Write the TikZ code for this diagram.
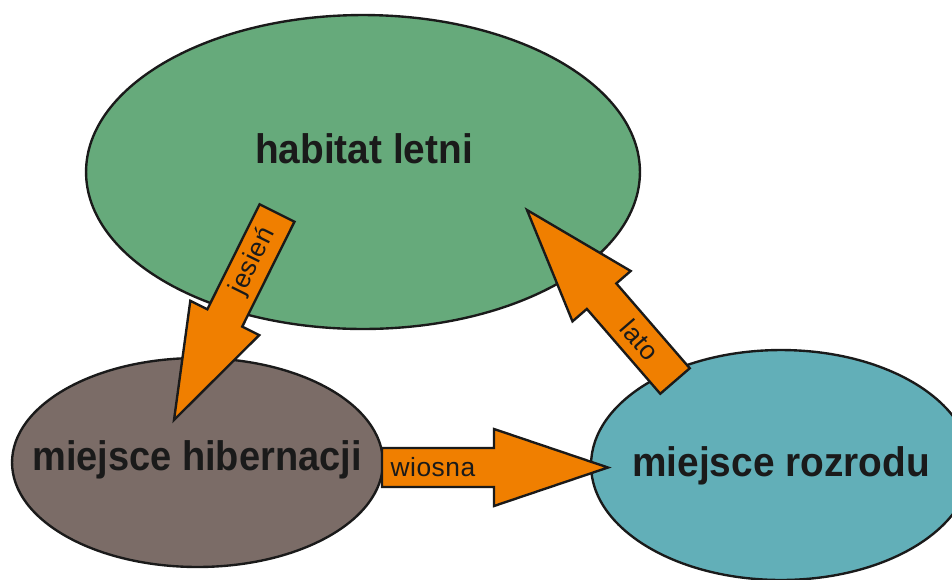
\documentclass[tikz,border=0pt]{standalone}
\usepackage{fontspec}
\setmainfont{Liberation Sans}
\newfontfamily\lblfont[LetterSpace=2]{Liberation Sans}
\usetikzlibrary{shapes.geometric,calc}
\definecolor{habgreen}{HTML}{66AA7B}
\definecolor{hibbrown}{HTML}{7B6C67}
\definecolor{breedteal}{HTML}{62AFB8}
\definecolor{arrorange}{HTML}{F07F00}
\definecolor{textdark}{HTML}{1A1A1A}
\tikzset{
  place/.style={ellipse, draw=textdark, line width=1.35pt, inner sep=0pt},
  blockarr/.style={fill=arrorange, draw=textdark, line width=1.35pt, line join=miter},
  bigtext/.style={font=\fontsize{23.5}{28}\selectfont\bfseries, text=textdark, inner sep=0pt},
  smalltext/.style={font=\lblfont\fontsize{15}{18}\selectfont, text=textdark, inner sep=0pt}
}
\newcommand{\blockarrow}[2]{%
  \coordinate (hb) at ($(#2)!2.28cm!(#1)$);
  \draw[blockarr] ($(#1)!0.39cm!90:(#2)$) -- ($(hb)!0.39cm!90:(#2)$) -- ($(hb)!0.77cm!90:(#2)$) -- (#2)
    -- ($(hb)!0.77cm!-90:(#2)$) -- ($(hb)!0.39cm!-90:(#2)$) -- ($(#1)!0.39cm!-90:(#2)$) -- cycle;}
\begin{document}
\begin{tikzpicture}[x=0.02cm,y=-0.02cm]
\useasboundingbox (0,0) rectangle (952,579);
\clip (0,0) rectangle (952,579);
\node[place, fill=habgreen, minimum width=11.08cm, minimum height=6.28cm] (summer) at (363,172) {};
\node[place, fill=hibbrown, minimum width=7.42cm, minimum height=4.18cm] (hib) at (197.5,462.5) {};
\node[place, fill=breedteal, minimum width=7.6cm, minimum height=4.6cm] (breed) at (781,465) {};
\coordinate (jT) at (277,213); \coordinate (jP) at (174,420);
\coordinate (lT) at (675,381); \coordinate (lP) at (527,210);
\coordinate (wT) at (382,467.5); \coordinate (wP) at (608,467.5);
\blockarrow{jT}{jP}
\blockarrow{lT}{lP}
\blockarrow{wT}{wP}
\node[bigtext, anchor=base] (summerlbl) at (364,163) {\scalebox{0.94}[1]{habitat letni}};
\node[bigtext, anchor=base] (hiblbl) at (197,470) {\scalebox{0.92}[1]{miejsce hibernacji}};
\node[bigtext, anchor=base] (breedlbl) at (781,476) {\scalebox{0.94}[1]{miejsce rozrodu}};
\node[smalltext, rotate=63.54] (jlbl) at ($(jT)!1.08cm!(jP)$) {jesień};
\node[smalltext, rotate=-49.12] (llbl) at ($(lT)!1.08cm!(lP)$) {lato};
\node[smalltext] (wlbl) at ($(wT)!1.02cm!(wP)$) {wiosna};
\end{tikzpicture}
\end{document}
